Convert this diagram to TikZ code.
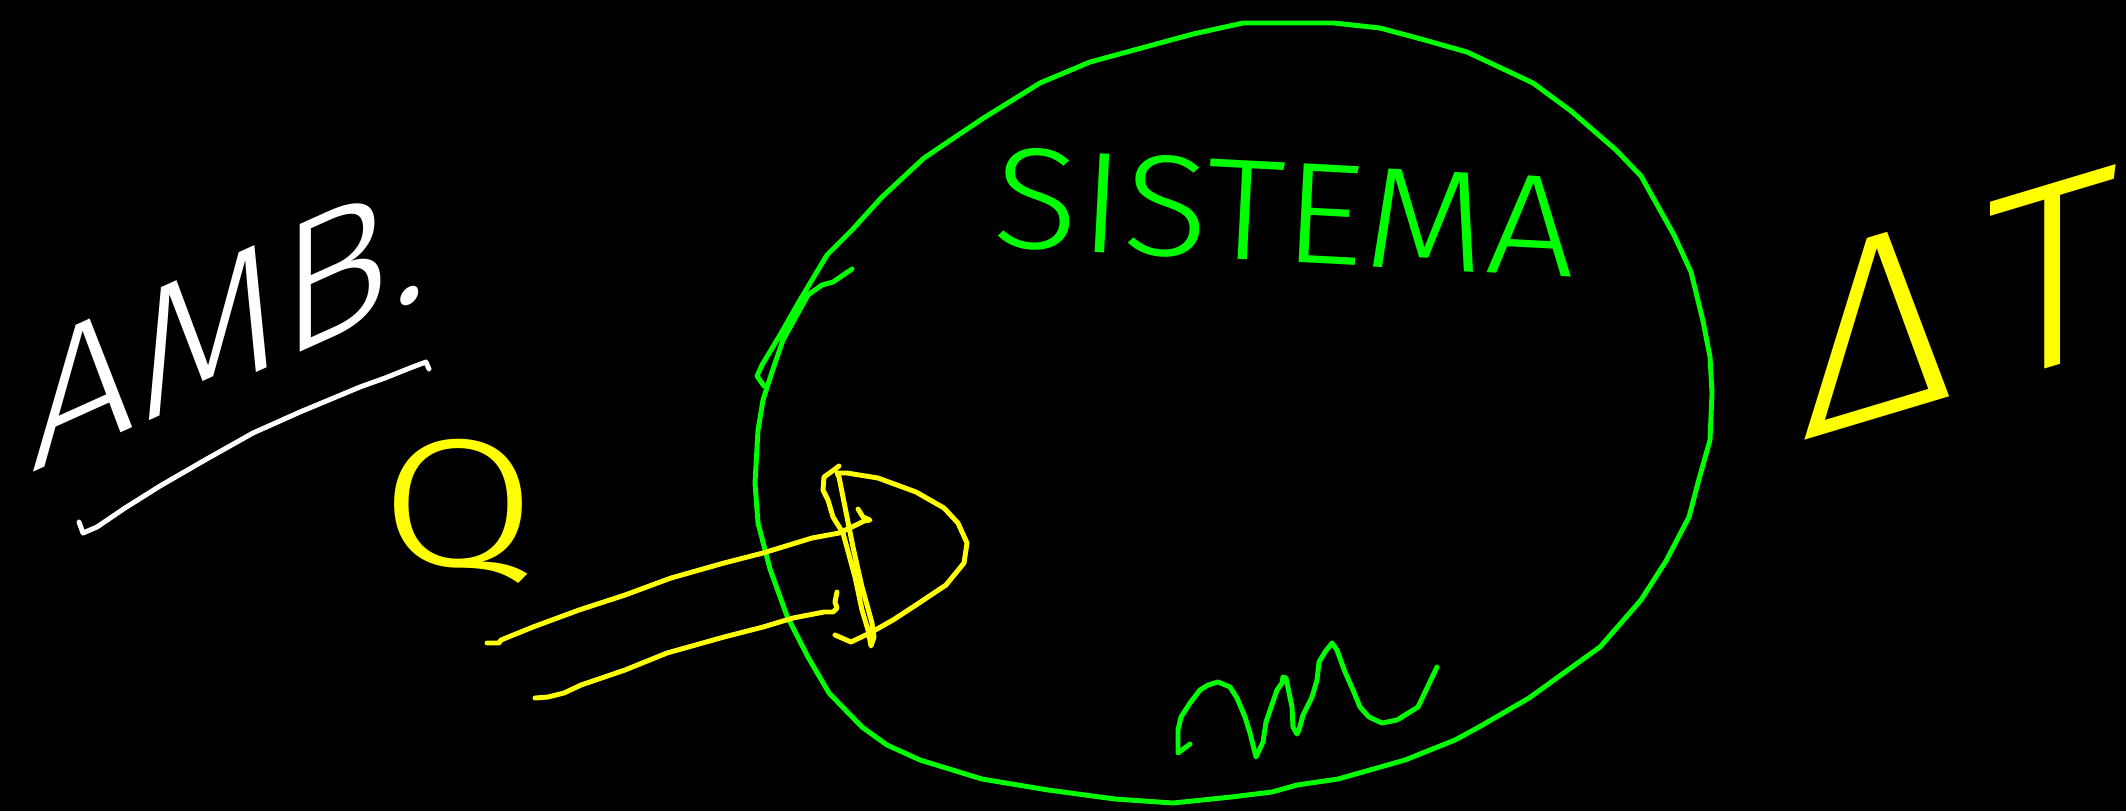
\documentclass[tikz,border=0pt]{standalone}
\usepackage{fontspec}
\newfontfamily\sketchfont{Fira Sans Light}
\definecolor{cInk}{HTML}{FFFFFF}
\definecolor{cSystem}{HTML}{00FF00}
\definecolor{cHeat}{HTML}{FFFF00}
\tikzset{
  pen/.style={
    draw=#1, line width=1.4pt, line cap=round, line join=round
  },
  handlabel/.style={
    text=#1, inner sep=0pt, font=\sketchfont
  },
}

\begin{document}
\begin{tikzpicture}[x=0.01cm, y=-0.01cm]

% ---- board ----
\fill[black] (0,0) rectangle (2126,811);
\useasboundingbox (0,0) rectangle (2126,811);

% ---- Surroundings ----
\node[handlabel=cInk, anchor=base west, yslant=0.45,
      font=\sketchfont\fontsize{53}{56}\selectfont] (amb) at (30,474) {AMB.};
\draw[pen=cInk] (79,522) -- (83,533) -- (97,527) -- (125,508) -- (160,486)
  -- (205,460) -- (253,433) -- (300,412) -- (360,387) -- (385,378)
  -- (410,368) -- (426,362) -- (429,369);

% ---- System boundary ----
\draw[pen=cSystem] (852,269) -- (833,282) -- (822,285) -- (808,295)
  -- (783,340) -- (772,372) -- (763,400) -- (758,430) -- (755,483)
  -- (758,523) -- (770,569) -- (787,616) -- (808,657) -- (829,693)
  -- (862,727) -- (887,745) -- (920,760) -- (982,779) -- (1048,790)
  -- (1115,799) -- (1173,803) -- (1231,797) -- (1272,792) -- (1297,785)
  -- (1338,779) -- (1405,760) -- (1455,740) -- (1479,727) -- (1529,698)
  -- (1579,662) -- (1600,647) -- (1641,600) -- (1666,561) -- (1689,517)
  -- (1699,479) -- (1710,440) -- (1712,393) -- (1710,357) -- (1703,321)
  -- (1691,272) -- (1674,235) -- (1641,176) -- (1616,150) -- (1571,111)
  -- (1533,83) -- (1467,52) -- (1421,39) -- (1380,28) -- (1334,23)
  -- (1243,23) -- (1193,34) -- (1090,62) -- (1040,83) -- (982,119)
  -- (924,158) -- (882,197) -- (852,230) -- (827,255) -- (800,300)
  -- (780,335) -- (762,365) -- (757,376) -- (764,386);

\node[handlabel=cSystem, anchor=base, rotate=-3, xscale=1.1,
      font=\sketchfont\fontsize{41}{44}\selectfont] (sistema) at (1283,262) {SISTEMA};

% work squiggle
\draw[pen=cSystem] (1190,744) -- (1178,753) -- (1178,730) -- (1181,717)
  -- (1190,703) -- (1200,690) -- (1208,685) -- (1218,682) -- (1230,687)
  -- (1237,698) -- (1245,717) -- (1250,733) -- (1256,757) -- (1263,742)
  -- (1266,722) -- (1277,690) -- (1282,683) -- (1283,677) -- (1286,678)
  -- (1292,707) -- (1293,727) -- (1297,734) -- (1299,730) -- (1303,715)
  -- (1312,697) -- (1317,680) -- (1319,662) -- (1325,652) -- (1332,643)
  -- (1337,650) -- (1345,672) -- (1353,690) -- (1360,707) -- (1369,717)
  -- (1382,723) -- (1397,720) -- (1418,707) -- (1437,667);

% ---- Heat ----
\node[handlabel=cHeat, anchor=base, xscale=1.25,
      font=\sketchfont\fontsize{52}{55}\selectfont] (heat) at (458,566) {Q};

% hollow arrow into the system
\draw[pen=cHeat] (487,643) -- (499,643) -- (501,640) -- (533,627) -- (579,610)
  -- (625,595) -- (671,578) -- (724,563) -- (763,553) -- (812,538)
  -- (839,533) -- (856,525) -- (864,521) -- (870,520) -- (863,517)
  -- (858,509);
\draw[pen=cHeat] (535,698) -- (548,697) -- (564,693) -- (581,685) -- (625,670)
  -- (667,653) -- (724,637) -- (763,627) -- (793,618) -- (824,612)
  -- (833,612) -- (837,608) -- (835,602) -- (837,592);
\draw[pen=cHeat] (839,466) -- (831,472) -- (824,477) -- (823,490) -- (828,500)
  -- (833,517) -- (843,533) -- (855,577) -- (862,610) -- (868,630)
  -- (871,646) -- (874,637) -- (872,623) -- (862,587) -- (853,547)
  -- (843,497) -- (839,477) -- (837,473) -- (847,473) -- (878,478)
  -- (916,492) -- (944,508) -- (958,523) -- (967,543) -- (964,563)
  -- (946,585) -- (916,605) -- (893,620) -- (870,633) -- (851,642)
  -- (835,635);

% ---- Temperature difference ----
\node[handlabel=cHeat, anchor=base west, yslant=0.3,
      font=\sketchfont\fontsize{76}{80}\selectfont] (deltaT) at (1800,442) {Δ\kern0.12em T};

\end{tikzpicture}
\end{document}
